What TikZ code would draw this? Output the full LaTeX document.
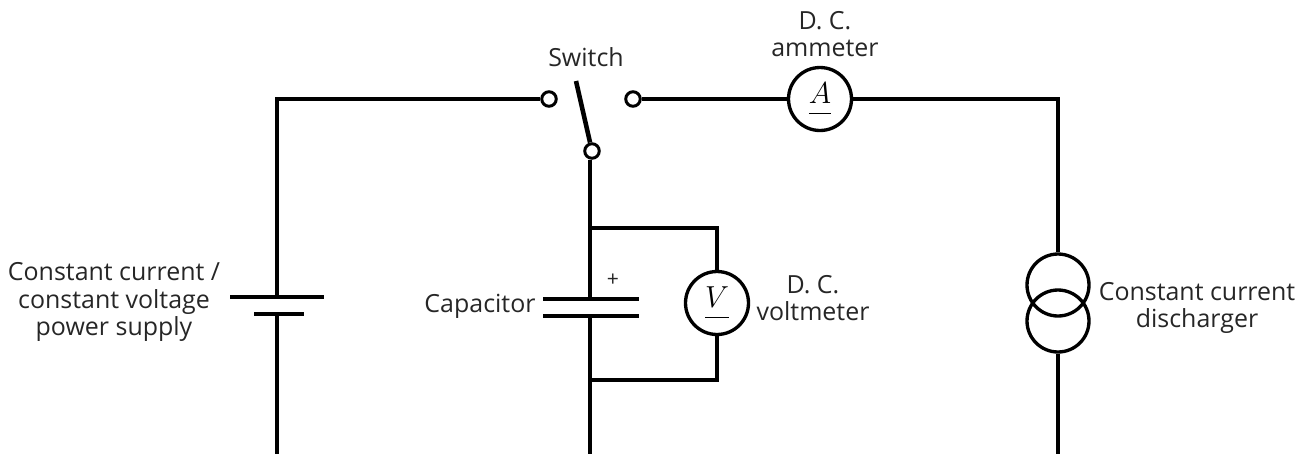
\documentclass[tikz,border=0pt]{standalone}
\usepackage{fontspec}
\usepackage{amsmath}
\setmainfont{Open Sans}
\usetikzlibrary{positioning,calc}

\begin{document}
\begin{tikzpicture}[
  x=0.02cm, y=-0.02cm,
  wire/.style={line width=2.6pt},
  meter/.style={draw, circle, line width=1.9pt, minimum size=1.26cm, inner sep=0pt, font=\LARGE},
  srcring/.style={draw, circle, line width=1.9pt, minimum size=1.24cm, inner sep=0pt},
  term/.style={draw, circle, line width=1.7pt, fill=white, minimum size=0.29cm, inner sep=0pt},
  plate/.style={fill=black, minimum height=0.09cm, inner sep=0pt},
  lab/.style={font=\fontsize{14.2}{15.8}\selectfont, align=center, text=black!85}
]
\useasboundingbox (0,0) rectangle (1309,454);

% supply side
\node[plate, minimum width=1.9cm] (batlong) at (277,297) {};
\node[plate, minimum width=1.02cm] (batshort) at (279,314) {};
\coordinate (batend) at (277,454);

% switch
\node[term] (swleft) at (549,99) {};
\node[term] (swright) at (633,99) {};
\node[term] (swpivot) at (592,151) {};
\coordinate (swtip) at (576,81);

% meters
\node[meter] (amm) at (820,99) {$\underline{A\vphantom{g}}$};
\node[meter] (volt) at (717,303) {$\underline{V\vphantom{g}}$};

% capacitor
\node[plate, minimum width=1.92cm] (captop) at (591,299) {};
\node[plate, minimum width=1.92cm] (capbot) at (591,316) {};
\coordinate (capend) at (590,454);
\coordinate (jtop) at (590,228);
\coordinate (jbot) at (590,380);

% discharger
\node[srcring] (distop) at (1058,285) {};
\node[srcring] (disbot) at (1058,321) {};
\coordinate (disend) at (1058,454);
\coordinate (corner) at (1058,99);

\draw[wire] (batlong.center) -- (277,99) -- (swleft.west);
\draw[wire] (batshort.center -| batend) -- (batend);
\draw[wire] (swtip) -- (swpivot);
\draw[wire] (swpivot.south -| jtop) -- (captop.center -| jtop);
\draw[wire] (capbot.center -| jtop) -- (capend);
\draw[wire] (swright.east) -- (amm.west);
\draw[wire] (amm.east) -- (corner) -- (distop.north);
\draw[wire] (disbot.south) -- (disend);
\draw[wire] (jtop) -| (volt.north);
\draw[wire] (jbot) -| (volt.south);

\node[lab] (lblsupply) at (114,302) {Constant current /\\constant voltage\\power supply};
\node[lab] (lblswitch) at (586,57) {Switch};
\node[lab] (lblamm) at (825,34) {D. C.\\ammeter};
\node[lab] (lblcap) at (480,306) {Capacitor};
\node[lab] (lblplus) at (613,280) {\large +};
\node[lab] (lblvolt) at (813,298) {D. C.\\voltmeter};
\node[lab] (lbldis) at (1197,308) {Constant current\\discharger};
\end{tikzpicture}
\end{document}
